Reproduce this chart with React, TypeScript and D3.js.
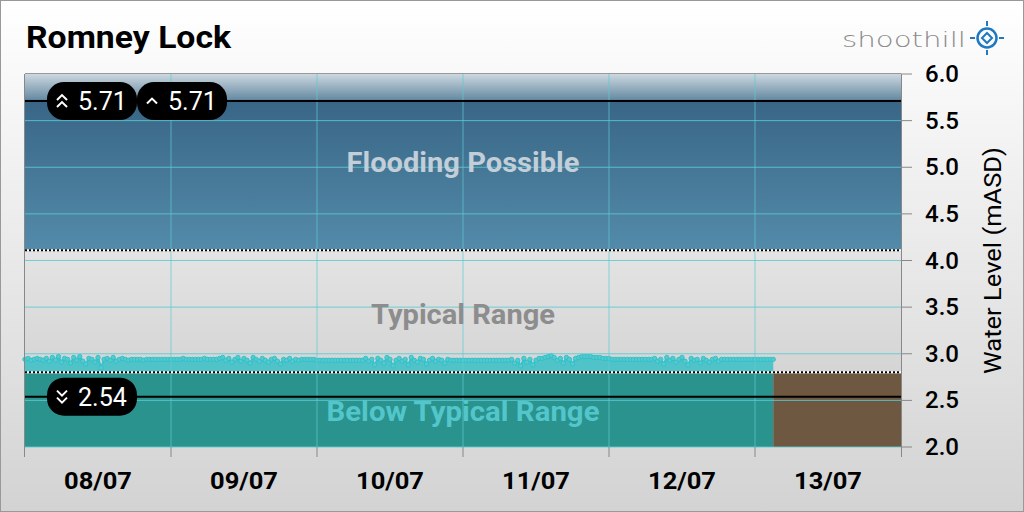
import React from 'react';
import * as d3 from 'd3';

const dayLabels = ['08/07', '09/07', '10/07', '11/07', '12/07', '13/07'];
const yTicks = [2.0, 2.5, 3.0, 3.5, 4.0, 4.5, 5.0, 5.5, 6.0];
const floodLevel = 4.1;
const typicalLow = 2.79;
const maxLevel = 5.71;
const highLevel = 5.71;
const minLevel = 2.54;
const bandLabels = ['Flooding Possible', 'Typical Range', 'Below Typical Range'];

// half-hourly water level readings, per day
const day1 = [2.94, 2.95, 2.93, 2.94, 2.95, 2.94, 2.93, 2.95, 2.92, 2.96, 2.93, 2.97, 2.91, 2.95, 2.94, 2.90, 2.96, 2.93, 2.97, 2.92, 2.89, 2.95, 2.94, 2.91, 2.96, 2.85, 2.94, 2.95, 2.93, 2.96, 2.92, 2.94, 2.95, 2.94, 2.93, 2.94, 2.94, 2.94, 2.94, 2.93, 2.94, 2.94, 2.94, 2.94, 2.94, 2.94, 2.94, 2.94];
const day2 = [2.94, 2.94, 2.94, 2.94, 2.95, 2.94, 2.94, 2.94, 2.94, 2.94, 2.94, 2.95, 2.94, 2.94, 2.94, 2.94, 2.95, 2.96, 2.93, 2.95, 2.91, 2.94, 2.96, 2.92, 2.95, 2.93, 2.90, 2.96, 2.94, 2.92, 2.95, 2.93, 2.91, 2.94, 2.95, 2.92, 2.89, 2.94, 2.93, 2.95, 2.92, 2.94, 2.93, 2.94, 2.94, 2.94, 2.94, 2.94];
const day3 = [2.93, 2.93, 2.93, 2.93, 2.93, 2.93, 2.93, 2.93, 2.93, 2.93, 2.93, 2.93, 2.93, 2.93, 2.93, 2.93, 2.95, 2.92, 2.94, 2.88, 2.95, 2.93, 2.90, 2.96, 2.94, 2.87, 2.93, 2.95, 2.92, 2.94, 2.88, 2.96, 2.93, 2.91, 2.95, 2.94, 2.89, 2.93, 2.95, 2.92, 2.94, 2.93, 2.90, 2.94, 2.93, 2.93, 2.93, 2.93];
const day4 = [2.93, 2.93, 2.93, 2.93, 2.93, 2.93, 2.93, 2.93, 2.93, 2.93, 2.93, 2.93, 2.93, 2.93, 2.93, 2.93, 2.94, 2.90, 2.93, 2.87, 2.95, 2.91, 2.94, 2.88, 2.93, 2.95, 2.95, 2.96, 2.97, 2.98, 2.96, 2.93, 2.95, 2.90, 2.96, 2.94, 2.89, 2.95, 2.96, 2.97, 2.97, 2.97, 2.97, 2.96, 2.96, 2.96, 2.95, 2.95];
const day5 = [2.95, 2.94, 2.94, 2.94, 2.94, 2.94, 2.94, 2.94, 2.94, 2.94, 2.94, 2.94, 2.94, 2.94, 2.94, 2.95, 2.92, 2.94, 2.89, 2.96, 2.93, 2.95, 2.91, 2.94, 2.96, 2.92, 2.88, 2.95, 2.93, 2.94, 2.90, 2.95, 2.93, 2.91, 2.94, 2.95, 2.92, 2.94, 2.94, 2.94, 2.94, 2.94, 2.94, 2.94, 2.94, 2.94, 2.94, 2.94];
const day6 = [2.94, 2.94, 2.94, 2.94, 2.94, 2.94, 2.94];

const startTime = Date.UTC(2024, 6, 8);
const endTime = Date.UTC(2024, 6, 14);
const HALF_HOUR = 30 * 60 * 1000;
const DAY = 24 * 3600 * 1000;

const readings = [...day1, ...day2, ...day3, ...day4, ...day5, ...day6].map((v, i) => ({
  t: new Date(startTime + i * HALF_HOUR),
  v,
}));

const W = 1024;
const H = 512;
const L = 25;
const R = 901;
const T = 74;
const B = 447;

const x = d3.scaleUtc().domain([new Date(startTime), new Date(endTime)]).range([L, R]);
const y = d3.scaleLinear().domain([2, 6]).range([B, T]);

const FONT = 'Roboto, "Noto Sans", sans-serif';

function Chevrons({ cx, cy, dir, count }: { cx: number; cy: number; dir: 'up' | 'down'; count: number }) {
  const s = dir === 'up' ? -1 : 1;
  const paths: string[] = [];
  const offs = count === 2 ? [-3.5, 3.5] : [0];
  offs.forEach((o) => {
    const yy = cy + o * s * -1;
    paths.push(`M${cx - 5},${yy - 2.5 * s} L${cx},${yy + 2.5 * s} L${cx + 5},${yy - 2.5 * s}`);
  });
  return (
    <g>
      {paths.map((p, i) => (
        <path key={i} d={p} fill="none" stroke="#fff" strokeWidth={2} />
      ))}
    </g>
  );
}

function Badge({ x0, value, dir, count }: { x0: number; value: number; dir: 'up' | 'down'; count: number }) {
  const cy = y(value);
  return (
    <g>
      <rect x={x0} y={cy - 19} width={90} height={38} rx={17} fill="#000" />
      <Chevrons cx={x0 + 15} cy={cy} dir={dir} count={count} />
      <text x={x0 + 31} y={cy + 9} fill="#fff" fontFamily={FONT} fontSize={25} textLength={49} lengthAdjust="spacingAndGlyphs">
        {value.toFixed(2)}
      </text>
    </g>
  );
}

export default function App() {
  const lastT = readings[readings.length - 1].t;
  const area = d3
    .area<{ t: Date; v: number }>()
    .x((d) => x(d.t))
    .y0(y(typicalLow))
    .y1((d) => y(d.v));
  const line = d3
    .line<{ t: Date; v: number }>()
    .x((d) => x(d.t))
    .y((d) => y(d.v));

  const dayStarts = d3.range(0, 7).map((i) => new Date(startTime + i * DAY));

  return (
    <svg width={W} height={H} style={{ position: 'absolute', left: 0, top: 0 }}>
      <defs>
        <linearGradient id="bg" x1="0" y1="0" x2="0" y2="1">
          <stop offset="0" stopColor="#ffffff" />
          <stop offset="1" stopColor="#d3d3d3" />
        </linearGradient>
        <linearGradient id="plotbg" x1="0" y1="0" x2="0" y2="1">
          <stop offset="0" stopColor="#fafafa" />
          <stop offset="1" stopColor="#cbcbcb" />
        </linearGradient>
        <linearGradient id="flood" gradientUnits="userSpaceOnUse" x1="0" y1={y(6)} x2="0" y2={y(floodLevel)}>
          <stop offset="0" stopColor="#ccd8e0" />
          <stop offset="0.14" stopColor="#6a8da5" />
          <stop offset="0.16" stopColor="#396686" />
          <stop offset="1" stopColor="#548baa" />
        </linearGradient>
      </defs>
      <rect x={0.5} y={0.5} width={W - 1} height={H - 1} fill="url(#bg)" stroke="#999" />

      {/* title */}
      <text x={26} y={48} fontFamily={FONT} fontWeight={700} fontSize={31} fill="#000" textLength={205} lengthAdjust="spacingAndGlyphs">
        Romney Lock
      </text>

      {/* logo */}
      <text x={842} y={47} fontFamily='"DejaVu Sans", sans-serif' fontWeight={300} fontSize={22} fill="#8a8a8a" textLength={124} lengthAdjust="spacingAndGlyphs">
        shoothill
      </text>
      <g transform="translate(987,38)">
        <circle r={9.5} fill="none" stroke="#1f78c0" strokeWidth={2.5} />
        <path d="M0,-5 L5,0 L0,5 L-5,0 Z" fill="none" stroke="#1f78c0" strokeWidth={2} />
        <line x1={0} y1={-17} x2={0} y2={-12} stroke="#1f78c0" strokeWidth={2} />
        <line x1={0} y1={12} x2={0} y2={17} stroke="#1f78c0" strokeWidth={2} />
        <line x1={-17} y1={0} x2={-12} y2={0} stroke="#1f78c0" strokeWidth={2} />
        <line x1={12} y1={0} x2={17} y2={0} stroke="#1f78c0" strokeWidth={2} />
      </g>

      {/* plot background */}
      <rect x={L} y={T} width={R - L} height={B - T} fill="url(#plotbg)" />
      {/* flood band */}
      <rect x={L} y={y(6)} width={R - L} height={y(floodLevel) - y(6)} fill="url(#flood)" />
      {/* below typical band */}
      <rect x={L} y={y(typicalLow)} width={x(lastT) - L} height={B - y(typicalLow)} fill="#2b938d" />
      <rect x={x(lastT)} y={y(typicalLow)} width={R - x(lastT)} height={B - y(typicalLow)} fill="#6e5842" />

      {/* data area */}
      <path d={area(readings) || ''} fill="#4fc3c8" />
      <path d={line(readings) || ''} fill="none" stroke="#35c4cc" strokeWidth={2} />
      {readings.map((d, i) => (
        <circle key={i} cx={x(d.t)} cy={y(d.v)} r={2.2} fill="#56c9ce" stroke="#2ec0c8" strokeWidth={0.9} />
      ))}

      {/* gridlines */}
      {yTicks.slice(0, -1).map((v) => (
        <line key={v} x1={L} x2={R} y1={y(v)} y2={y(v)} stroke="#5ccbd2" strokeWidth={1} opacity={0.85} />
      ))}
      {dayStarts.slice(1, -1).map((d, i) => (
        <line key={i} x1={x(d)} x2={x(d)} y1={T} y2={B} stroke="#5ccbd2" strokeWidth={1} opacity={0.7} />
      ))}

      {/* dotted threshold lines */}
      {[floodLevel, typicalLow].map((v) => (
        <g key={v}>
          <line x1={L} x2={R} y1={y(v) - 1} y2={y(v) - 1} stroke="#fff" strokeWidth={2} />
          <line x1={L} x2={R} y1={y(v) - 1} y2={y(v) - 1} stroke="#000" strokeWidth={2} strokeDasharray="2,2" />
        </g>
      ))}

      {/* max / min lines */}
      <line x1={L} x2={R} y1={y(maxLevel)} y2={y(maxLevel)} stroke="#000" strokeWidth={2} />
      <line x1={L} x2={R} y1={y(minLevel)} y2={y(minLevel)} stroke="#000" strokeWidth={2} />

      {/* band labels */}
      <text x={(L + R) / 2} y={y(5.05) + 9} textAnchor="middle" fontFamily={FONT} fontWeight={700} fontSize={28} fill="#c9d3dc" opacity={0.95} textLength={233} lengthAdjust="spacingAndGlyphs">
        {bandLabels[0]}
      </text>
      <text x={(L + R) / 2} y={y(3.42) + 9} textAnchor="middle" fontFamily={FONT} fontWeight={700} fontSize={28} fill="#8d8d8d" textLength={184} lengthAdjust="spacingAndGlyphs">
        {bandLabels[1]}
      </text>
      <text x={(L + R) / 2} y={y(2.37) + 9} textAnchor="middle" fontFamily={FONT} fontWeight={700} fontSize={28} fill="#52c6cb" textLength={273} lengthAdjust="spacingAndGlyphs">
        {bandLabels[2]}
      </text>

      {/* badges */}
      <Badge x0={47} value={maxLevel} dir="up" count={2} />
      <Badge x0={137} value={highLevel} dir="up" count={1} />
      <Badge x0={47} value={minLevel} dir="down" count={2} />

      {/* plot frame */}
      <line x1={L} x2={R} y1={T - 0.5} y2={T - 0.5} stroke="#999" />
      <line x1={L - 0.5} x2={L - 0.5} y1={T} y2={B + 10} stroke="#888" />
      <line x1={R + 0.5} x2={R + 0.5} y1={T} y2={B + 10} stroke="#888" />

      {/* x axis */}
      {dayStarts.slice(1, -1).map((d, i) => (
        <line key={i} x1={x(d)} x2={x(d)} y1={B} y2={B + 10} stroke="#888" />
      ))}
      {dayLabels.map((lab, i) => (
        <text key={lab} x={x(new Date(startTime + i * DAY + DAY / 2))} y={489} textAnchor="middle" fontFamily={FONT} fontWeight={700} fontSize={24} fill="#000" textLength={68} lengthAdjust="spacingAndGlyphs">
          {lab}
        </text>
      ))}

      {/* y axis */}
      {yTicks.map((v) => (
        <g key={v}>
          <line x1={R} x2={R + 11} y1={y(v)} y2={y(v)} stroke="#888" />
          <text x={925} y={y(v) + 8} fontFamily={FONT} fontSize={23} fontWeight={500} fill="#000" textLength={34} lengthAdjust="spacingAndGlyphs">
            {v.toFixed(1)}
          </text>
        </g>
      ))}
      <text transform={`translate(1001,${(T + B) / 2}) rotate(-90)`} textAnchor="middle" fontFamily={FONT} fontSize={24} fill="#000" textLength={227} lengthAdjust="spacingAndGlyphs">
        Water Level (mASD)
      </text>
    </svg>
  );
}
